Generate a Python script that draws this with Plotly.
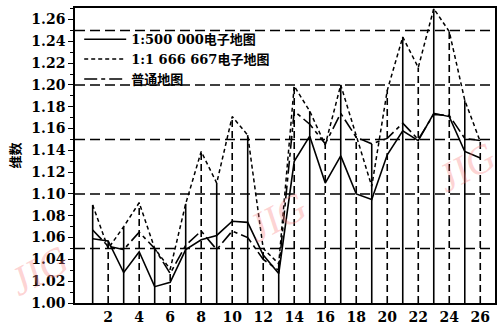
import plotly.graph_objects as go

# Sample index along the horizontal axis
x_idx = list(range(1, 27))

# Dimension values of the three map types
dim_500k = [1.059, 1.057, 1.028, 1.047, 1.015, 1.019, 1.049, 1.058, 1.062, 1.075,
            1.074, 1.044, 1.027, 1.130, 1.153, 1.110, 1.135, 1.100, 1.095, 1.136,
            1.158, 1.149, 1.174, 1.171, 1.139, 1.133]
dim_1667k = [1.090, 1.050, 1.070, 1.092, 1.050, 1.031, 1.091, 1.139, 1.110, 1.171,
             1.154, 1.050, 1.036, 1.199, 1.176, 1.145, 1.200, 1.153, 1.107, 1.195,
             1.244, 1.216, 1.270, 1.249, 1.186, 1.148]
dim_paper = [1.067, 1.052, 1.049, 1.065, 1.050, 1.027, 1.053, 1.066, 1.049, 1.066,
             1.060, 1.040, 1.030, 1.176, 1.164, 1.146, 1.174, 1.152, 1.146, 1.151,
             1.165, 1.150, 1.173, 1.172, 1.151, 1.149]

series_names = ["1:500 000电子地图", "1:1 666 667电子地图", "普通地图"]
x_ticks = list(range(2, 27, 2))
y_ticks = [round(1.00 + 0.02 * i, 2) for i in range(14)]
ref_levels = [1.05, 1.10, 1.15, 1.20, 1.25]
y_base = 1.00

FONT = "DejaVu Serif, Noto Sans CJK SC, serif"

fig = go.Figure()

# Drop lines from the baseline up to the highest value at each index
odd_x, odd_y, even_x, even_y = [], [], [], []
for i, xv in enumerate(x_idx):
    top = max(dim_500k[i], dim_1667k[i], dim_paper[i])
    if xv % 2:
        odd_x += [xv, xv, None]
        odd_y += [y_base, top, None]
    else:
        even_x += [xv, xv, None]
        even_y += [y_base, top, None]

fig.add_trace(go.Scatter(x=odd_x, y=odd_y, mode="lines", showlegend=False,
                         line=dict(color="black", width=1.6), hoverinfo="skip"))
fig.add_trace(go.Scatter(x=even_x, y=even_y, mode="lines", showlegend=False,
                         line=dict(color="black", width=1.6, dash="7px,4px"),
                         hoverinfo="skip"))

# Horizontal dashed reference levels
for lv in ref_levels:
    fig.add_shape(type="line", xref="paper", yref="y", x0=0, x1=1, y0=lv, y1=lv,
                  line=dict(color="black", width=1.6, dash="10px,5px"))

fig.add_trace(go.Scatter(x=x_idx, y=dim_500k, mode="lines", name=series_names[0],
                         line=dict(color="black", width=1.6)))
fig.add_trace(go.Scatter(x=x_idx, y=dim_1667k, mode="lines", name=series_names[1],
                         line=dict(color="black", width=1.5, dash="4px,3px")))
fig.add_trace(go.Scatter(x=x_idx, y=dim_paper, mode="lines", name=series_names[2],
                         line=dict(color="black", width=1.6, dash="13px,4px,4px,4px")))

# Faint journal watermark
for (wx, wy) in [(-0.085, 0.11), (0.48, 0.29), (0.93, 0.46)]:
    fig.add_annotation(x=wx, y=wy, xref="paper", yref="paper", text="JIG",
                       xanchor="center", yanchor="middle",
                       showarrow=False, textangle=-28,
                       font=dict(family="Liberation Serif", size=40,
                                 color="rgba(250,130,130,0.35)", style="italic"))

fig.update_layout(
    width=503, height=331,
    margin=dict(l=75, r=6, t=8, b=18),
    paper_bgcolor="white", plot_bgcolor="white",
    font=dict(family=FONT, color="black", size=14),
    showlegend=True,
    legend=dict(x=0.01, y=0.945, xanchor="left", yanchor="top",
                bgcolor="rgba(0,0,0,0)", tracegroupgap=0,
                font=dict(family=FONT, size=13, color="black", weight="bold"),
                itemwidth=42),
)

fig.update_xaxes(
    range=[-0.14, 26.95], tickmode="array", tickvals=x_ticks,
    ticktext=[str(v) for v in x_ticks], showgrid=False, zeroline=False,
    showline=True, linecolor="black", linewidth=1.5, mirror=True,
    ticks="", tickfont=dict(family=FONT, size=14, weight="bold"),
)
fig.update_yaxes(
    range=[1.00, 1.2706], tickmode="array", tickvals=y_ticks,
    ticktext=[f"{v:.2f}" for v in y_ticks], showgrid=False, zeroline=False,
    showline=True, linecolor="black", linewidth=1.5, mirror=True,
    ticks="outside", ticklen=5, tickwidth=1.4, tickcolor="black",
    minor=dict(tickmode="linear", tick0=1.01, dtick=0.02, ticks="outside",
               ticklen=3, tickwidth=1, tickcolor="black"),
    tickfont=dict(family=FONT, size=14, weight="bold"),
    title=dict(text="维数", standoff=8,
               font=dict(family="Noto Sans CJK SC", size=13, color="black",
                         weight="bold")),
)

fig.write_html("out.html")
